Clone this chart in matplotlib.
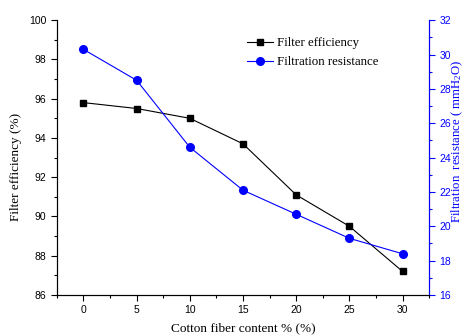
import numpy as np
import matplotlib
matplotlib.use('Agg')
import matplotlib.pyplot as plt
from matplotlib.ticker import MultipleLocator

plt.rcParams['font.family'] = 'Liberation Sans'
plt.rcParams['mathtext.fontset'] = 'custom'
plt.rcParams['mathtext.rm'] = 'Liberation Serif'
plt.rcParams['mathtext.it'] = 'Liberation Serif:italic'

# data
content = [0, 5, 10, 15, 20, 25, 30]
efficiency = [95.8, 95.5, 95.0, 93.7, 91.1, 89.5, 87.2]
resistance = [30.3, 28.5, 24.6, 22.1, 20.7, 19.3, 18.4]

serif = 'Liberation Serif'
blue = '#0000ff'

fig = plt.figure(figsize=(4.66, 3.36), dpi=100)
ax = fig.add_axes([0.122, 0.122, 0.799, 0.818])
ax2 = ax.twinx()

l1, = ax.plot(content, efficiency, 'k-', marker='s', markersize=5, linewidth=0.8,
              label='Filter efficiency')
l2, = ax2.plot(content, resistance, '-', color=blue, marker='o', markersize=5.5,
               linewidth=0.8, label='Filtration resistance')

ax.set_xlim(-2.5, 32.5)
ax.set_ylim(86, 100)
ax2.set_ylim(16, 32)
ax.xaxis.set_major_locator(MultipleLocator(5))
ax.xaxis.set_minor_locator(MultipleLocator(2.5))
ax.yaxis.set_major_locator(MultipleLocator(2))
ax.yaxis.set_minor_locator(MultipleLocator(1))
ax2.yaxis.set_major_locator(MultipleLocator(2))
ax2.yaxis.set_minor_locator(MultipleLocator(1))

for a in (ax, ax2):
    a.tick_params(which='major', direction='out', length=4, width=0.8, labelsize=7.5)
    a.tick_params(which='minor', direction='out', length=2.5, width=0.8)
ax.tick_params(top=False, which='both')
ax.spines['top'].set_visible(False)
ax2.spines['top'].set_visible(False)
ax2.spines['right'].set_color(blue)
ax2.tick_params(axis='y', which='both', colors=blue)

ax.set_xlabel('Cotton fiber content % (%)', family=serif, fontsize=9.5, labelpad=5)
ax.set_ylabel('Filter efficiency (%)', family=serif, fontsize=9.5)
ax.yaxis.set_label_coords(-0.094, 0.465)
ax2.set_ylabel(r'Filtration  resistance ( mmH$_2$O)', family=serif, fontsize=9.2,
               color=blue)
ax2.yaxis.set_label_coords(1.056, 0.56)

ax.legend([l1, l2], ['Filter efficiency', 'Filtration resistance'],
          loc='upper left', bbox_to_anchor=(0.48, 0.98), frameon=False,
          prop={'family': serif, 'size': 9.3}, handlelength=2.0,
          handletextpad=0.3, labelspacing=0.55)

fig.savefig('out.png', dpi=100)
